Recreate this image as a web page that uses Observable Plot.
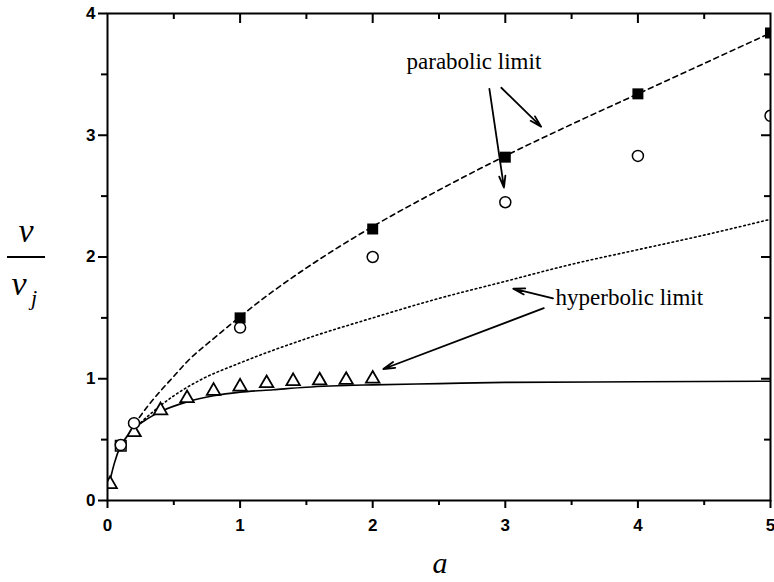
<!DOCTYPE html>
<html><head><meta charset="utf-8">
<script src="https://cdn.jsdelivr.net/npm/d3@7"></script>
<script src="https://cdn.jsdelivr.net/npm/@observablehq/plot@0.6"></script>
<style>body{margin:0;background:#fff}</style>
</head><body><div id="chart"></div>
<script>
// tick values
const xMajor = [0, 1, 2, 3, 4, 5];
const xMinor = [0.5, 1.5, 2.5, 3.5, 4.5];
const yMajor = [0, 1, 2, 3, 4];
const yMinor = [0.5, 1.5, 2.5, 3.5];

// solid curve
const solidX = [0.02, 0.05, 0.1, 0.15, 0.2, 0.3, 0.4, 0.6, 0.8, 1, 1.25, 1.5, 2, 2.5, 3, 4, 5];
const solidY = [0.17, 0.3, 0.45, 0.53, 0.59, 0.67, 0.73, 0.81, 0.86, 0.89, 0.91, 0.93, 0.95, 0.96, 0.97, 0.975, 0.98];
// dashed curve (parabolic limit)
const dashX = [0.2, 0.3, 0.4, 0.5, 0.6, 0.8, 1, 1.25, 1.5, 2, 2.5, 3, 3.5, 4, 4.5, 5];
const dashY = [0.62, 0.77, 0.90, 1.02, 1.14, 1.33, 1.51, 1.72, 1.91, 2.25, 2.55, 2.83, 3.09, 3.34, 3.59, 3.84];
// dotted curve (hyperbolic limit)
const dotX = [0.25, 0.4, 0.5, 0.7, 1, 1.5, 2, 2.5, 3, 3.5, 4, 4.5, 5];
const dotY = [0.64, 0.78, 0.86, 0.99, 1.13, 1.33, 1.5, 1.66, 1.8, 1.94, 2.06, 2.18, 2.31];

// markers
const squareX = [1, 2, 3, 4, 5];
const squareY = [1.50, 2.23, 2.82, 3.34, 3.84];
const openSquareX = [0.1];
const openSquareY = [0.45];
const circleX = [0.1, 0.2, 1, 2, 3, 4, 5];
const circleY = [0.455, 0.635, 1.42, 2.0, 2.45, 2.83, 3.16];
const triX = [0.02, 0.2, 0.4, 0.6, 0.8, 1.0, 1.2, 1.4, 1.6, 1.8, 2.0];
const triY = [0.134, 0.56, 0.74, 0.84, 0.90, 0.935, 0.963, 0.98, 0.985, 0.99, 1.0];

// annotations
const annoText = ["parabolic limit", "hyperbolic limit"];
const annoX = [2.255, 3.379];
const annoY = [3.548, 1.602];
const arrowX1 = [2.88, 2.97, 3.36, 3.29];
const arrowY1 = [3.38, 3.39, 1.66, 1.58];
const arrowX2 = [2.99, 3.27, 3.06, 2.08];
const arrowY2 = [2.57, 3.07, 1.74, 1.08];

const pts = (xs, ys) => xs.map((x, i) => ({x, y: ys[i]}));
const arrows = arrowX1.map((x1, i) => ({x1, y1: arrowY1[i], x2: arrowX2[i], y2: arrowY2[i]}));
const annos = annoText.map((t, i) => ({t, x: annoX[i], y: annoY[i]}));

const W = 774, H = 582, ML = 107, MR = 4, MT = 13, MB = 82;
const innerW = W - ML - MR, innerH = H - MT - MB;
const xMax = 5, yMax = 4;
// convert inward tick lengths (px) into data units for the top / right frame ticks
const pxY = len => len * yMax / innerH;
const pxX = len => len * xMax / innerW;

const tickFont = {fontWeight: "bold", fontSize: 17, fontFamily: "Liberation Sans, Arial, sans-serif"};
const none = () => "";

const chart = Plot.plot({
  width: W,
  height: H,
  marginLeft: ML,
  marginRight: MR,
  marginTop: MT,
  marginBottom: MB,
  x: {domain: [0, xMax]},
  y: {domain: [0, yMax]},
  style: {fontFamily: "Liberation Sans, Arial, sans-serif", color: "black", background: "white"},
  marks: [
    Plot.axisX({ticks: xMajor, tickSize: 8, tickPadding: 10, strokeWidth: 2, label: null, tickFormat: d => d, ...tickFont}),
    Plot.axisX({ticks: xMinor, tickSize: 5, strokeWidth: 2, label: null, tickFormat: none}),
    Plot.axisY({ticks: yMajor, tickSize: 9, tickPadding: 3, strokeWidth: 2, label: null, tickFormat: d => d, ...tickFont}),
    Plot.axisY({ticks: yMinor, tickSize: 6, strokeWidth: 2, label: null, tickFormat: none}),
    // inward ticks on top and right
    Plot.ruleX(xMajor.slice(1, -1), {x: d => d, y1: yMax, y2: yMax - pxY(10), stroke: "black", strokeWidth: 2}),
    Plot.ruleX(xMinor, {x: d => d, y1: yMax, y2: yMax - pxY(6), stroke: "black", strokeWidth: 2}),
    Plot.ruleY(yMajor.slice(1, -1), {y: d => d, x1: xMax, x2: xMax - pxX(9), stroke: "black", strokeWidth: 2}),
    Plot.ruleY(yMinor, {y: d => d, x1: xMax, x2: xMax - pxX(6), stroke: "black", strokeWidth: 2}),
    Plot.line(pts(solidX, solidY), {x: "x", y: "y", stroke: "black", strokeWidth: 1.6, curve: "monotone-x", clip: true}),
    Plot.line(pts(dashX, dashY), {x: "x", y: "y", stroke: "black", strokeWidth: 1.6, strokeDasharray: "5,4", curve: "monotone-x", clip: true}),
    Plot.line(pts(dotX, dotY), {x: "x", y: "y", stroke: "black", strokeWidth: 1.6, strokeDasharray: "1.6,3", curve: "monotone-x", clip: true}),
    Plot.dot(pts(openSquareX, openSquareY), {x: "x", y: "y", symbol: "square", r: 6, fill: "white", stroke: "black", strokeWidth: 1.5, clip: true}),
    Plot.dot(pts(triX, triY), {x: "x", y: "y", symbol: "triangle", r: 5, fill: "white", stroke: "black", strokeWidth: 1.8, clip: true}),
    Plot.dot(pts(circleX, circleY), {x: "x", y: "y", symbol: "circle", r: 5.5, fill: "white", stroke: "black", strokeWidth: 1.5, clip: true}),
    Plot.dot(pts(squareX, squareY), {x: "x", y: "y", symbol: "square", r: 6.2, fill: "black", stroke: "none", clip: true}),
    Plot.arrow(arrows, {x1: "x1", y1: "y1", x2: "x2", y2: "y2", stroke: "black", strokeWidth: 1.8, headLength: 10, headAngle: 30}),
    Plot.text(annos, {x: "x", y: "y", text: "t", textAnchor: "start", lineAnchor: "bottom", fontFamily: "Liberation Serif, Times New Roman, serif", fontSize: 23, fill: "black"}),
    Plot.frame({stroke: "black", strokeWidth: 2})
  ]
});

const svg = d3.select(chart);
const serif = "Liberation Serif, Times New Roman, serif";
const addText = (x, y, size, txt, anchor = "middle") =>
  svg.append("text").attr("x", x).attr("y", y).attr("text-anchor", anchor)
    .attr("font-family", serif).attr("font-style", "italic").attr("font-size", size)
    .attr("font-weight", "normal").attr("fill", "black").text(txt);
addText(440, 573, 30, "a");
addText(26, 242, 34, "v");
svg.append("line").attr("x1", 7).attr("x2", 45).attr("y1", 257).attr("y2", 257).attr("stroke", "black").attr("stroke-width", 2);
addText(19, 295, 34, "v");
addText(31, 305, 22, "j", "start");

document.getElementById("chart").appendChild(chart);
</script>
</body></html>
